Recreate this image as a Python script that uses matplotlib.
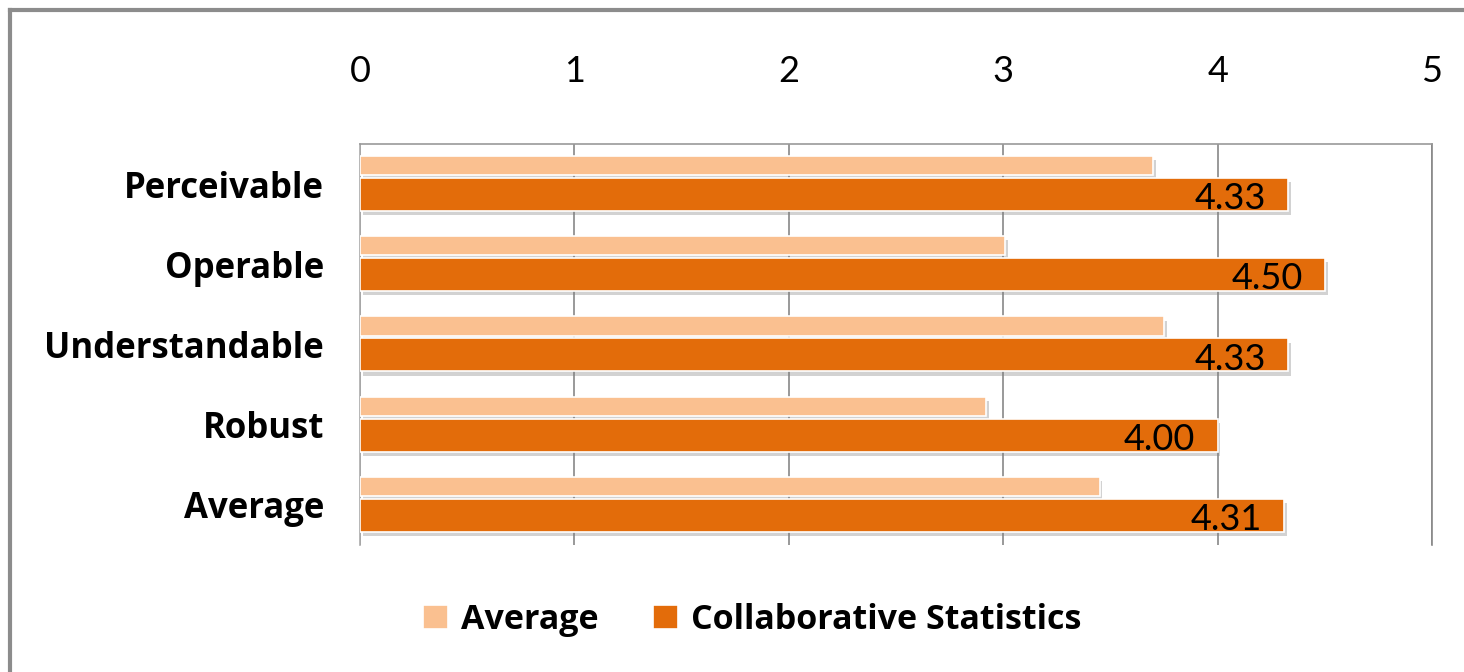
import matplotlib.pyplot as plt
import matplotlib.patheffects as pe
from matplotlib.lines import Line2D
import numpy as np

categories = ['Perceivable', 'Operable', 'Understandable', 'Robust', 'Average']
average = [3.70, 3.01, 3.75, 2.92, 3.45]
collab = [4.33, 4.50, 4.33, 4.00, 4.31]
series_names = ['Average', 'Collaborative Statistics']
xticks = [0, 1, 2, 3, 4, 5]

light = '#FAC090'
dark = '#E36C0A'

plt.rcParams['font.family'] = ['Lato', 'DejaVu Sans']
bold_font = ['Open Sans', 'DejaVu Sans']

fig = plt.figure(figsize=(14.64, 6.72), dpi=100)
ax = fig.add_axes([360 / 1464, 1 - 545 / 672, 1072 / 1464, 401 / 672])

y = np.arange(len(categories))
shadow = [pe.SimplePatchShadow(offset=(2, -3), alpha=0.35, shadow_rgbFace='gray'), pe.Normal()]

b1 = ax.barh(y - 0.23, average, height=0.24, color=light, edgecolor='white',
             linewidth=1.2, label=series_names[0], zorder=3)
b2 = ax.barh(y + 0.13, collab, height=0.41, color=dark, edgecolor='white',
             linewidth=1.2, label=series_names[1], zorder=3)
for bar in list(b1) + list(b2):
    bar.set_path_effects(shadow)

for yi, v in zip(y, collab):
    ax.annotate(f'{v:.2f}', xy=(v, yi + 0.13), xytext=(-16, -3),
                textcoords='offset points', ha='right', va='center',
                fontsize=26, color='black', zorder=4)

ax.set_xlim(0, 5)
ax.set_ylim(len(categories) - 0.5, -0.5)
ax.set_xticks(xticks)
ax.set_xticklabels([str(t) for t in xticks], fontsize=26)
ax.xaxis.tick_top()
ax.tick_params(axis='x', length=0, pad=40)
ax.set_yticks(y)
ax.set_yticklabels(categories, fontsize=25, fontweight='bold', family=bold_font)
ax.tick_params(axis='y', length=0, pad=26)
ax.grid(axis='x', color='#888888', linewidth=1.2, zorder=0)
ax.set_axisbelow(True)

ax.spines['bottom'].set_visible(False)
ax.spines['top'].set_color('#999999')
ax.spines['right'].set_color('#888888')
ax.spines['left'].set_color('#aaaaaa')
for s in ['top', 'right', 'left']:
    ax.spines[s].set_linewidth(1.2)

leg = fig.legend(handles=[b1, b2], labels=series_names, loc='center',
                 bbox_to_anchor=(0.514, 0.077), ncol=2, frameon=False,
                 prop={'size': 24.5, 'weight': 'bold', 'family': bold_font},
                 handlelength=0.72, handleheight=0.72, columnspacing=1.6,
                 handletextpad=0.4)
for h in leg.legend_handles:
    h.set_path_effects([])

# chart frame
fig.add_artist(Line2D([10 / 1464, 1], [1 - 10 / 672, 1 - 10 / 672],
                      transform=fig.transFigure, color='#8c8c8c', linewidth=3))
fig.add_artist(Line2D([10 / 1464, 10 / 1464], [0, 1 - 10 / 672],
                      transform=fig.transFigure, color='#8c8c8c', linewidth=3))

plt.savefig('out.png', dpi=100)
